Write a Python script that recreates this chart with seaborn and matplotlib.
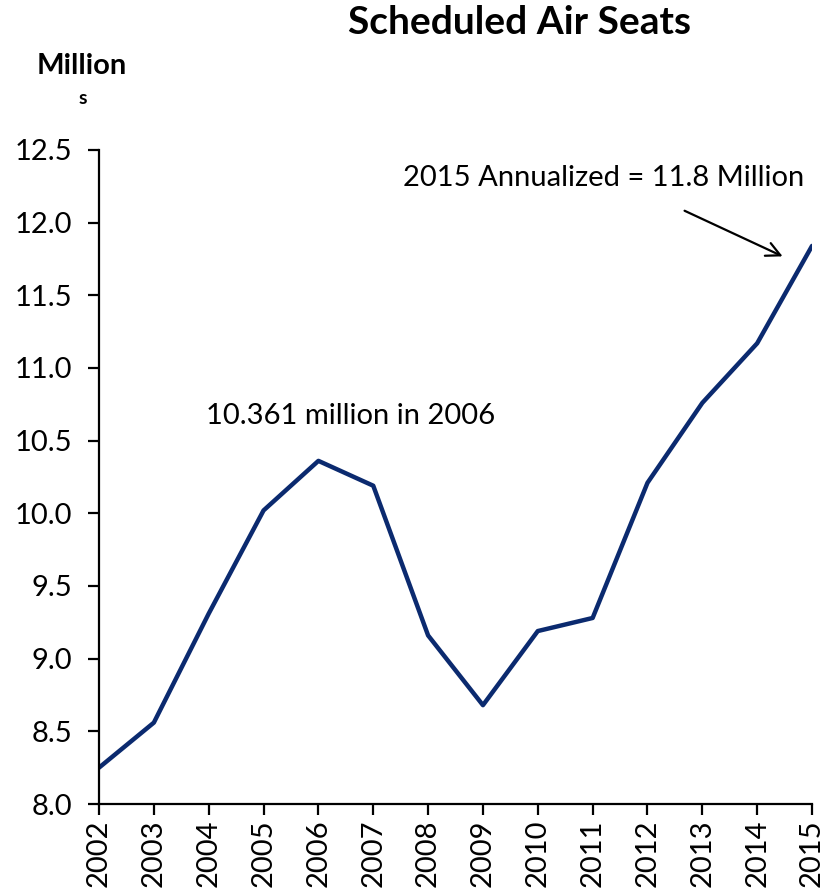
import pandas as pd
import matplotlib.pyplot as plt
import seaborn as sns

sns.set_style("ticks")
plt.rcParams['font.family'] = ['Lato', 'DejaVu Sans']
plt.rcParams['text.color'] = 'black'
plt.rcParams['xtick.color'] = 'black'
plt.rcParams['ytick.color'] = 'black'

years = [2002, 2003, 2004, 2005, 2006, 2007, 2008, 2009, 2010, 2011, 2012, 2013, 2014, 2015]
seats = [8.25, 8.56, 9.31, 10.02, 10.361, 10.19, 9.16, 8.68, 9.19, 9.28, 10.21, 10.76, 11.17, 11.84]
y_ticks = [8.0, 8.5, 9.0, 9.5, 10.0, 10.5, 11.0, 11.5, 12.0, 12.5]

df = pd.DataFrame({'year': years, 'seats': seats})

fig = plt.figure(figsize=(8.32, 8.89), dpi=100)
ax = fig.add_axes([0.119, 0.0956, 0.857, 0.7357])

sns.lineplot(data=df, x='year', y='seats', color='#0B2A6F', linewidth=3.2, ax=ax)

ax.set_xlim(2002, 2015)
ax.set_ylim(8.0, 12.5)
ax.set_xticks(years)
ax.set_xticklabels([str(y) for y in years], rotation=90, fontsize=21)
ax.set_yticks(y_ticks)
ax.set_yticklabels([f'{v:.1f}' for v in y_ticks], fontsize=21)
ax.set_xlabel('')
ax.set_ylabel('')

for side in ['top', 'right']:
    ax.spines[side].set_visible(False)
for side in ['left', 'bottom']:
    ax.spines[side].set_linewidth(1.6)
    ax.spines[side].set_color('black')
ax.tick_params(axis='both', direction='out', length=8, width=1.6, color='black')
ax.tick_params(axis='y', pad=11)
ax.tick_params(axis='x', pad=3)

fig.text(0.625, 0.975, 'Scheduled Air Seats', ha='center', va='center', fontsize=28, fontweight='bold')
fig.text(0.098, 0.926, 'Million', ha='center', va='center', fontsize=21, fontweight='bold')
fig.text(0.099, 0.889, 's', ha='center', va='center', fontsize=14, fontweight='bold')

ax.text(2006.58, 10.67, '10.361 million in 2006', ha='center', va='center', fontsize=21)
ax.text(2011.2, 12.31, '2015 Annualized = 11.8 Million', ha='center', va='center', fontsize=21)
ax.annotate('', xy=(2014.51, 11.76), xytext=(2012.63, 12.09),
            arrowprops=dict(arrowstyle='->', color='black', lw=1.6, mutation_scale=25))

fig.savefig('out.png', dpi=100)
